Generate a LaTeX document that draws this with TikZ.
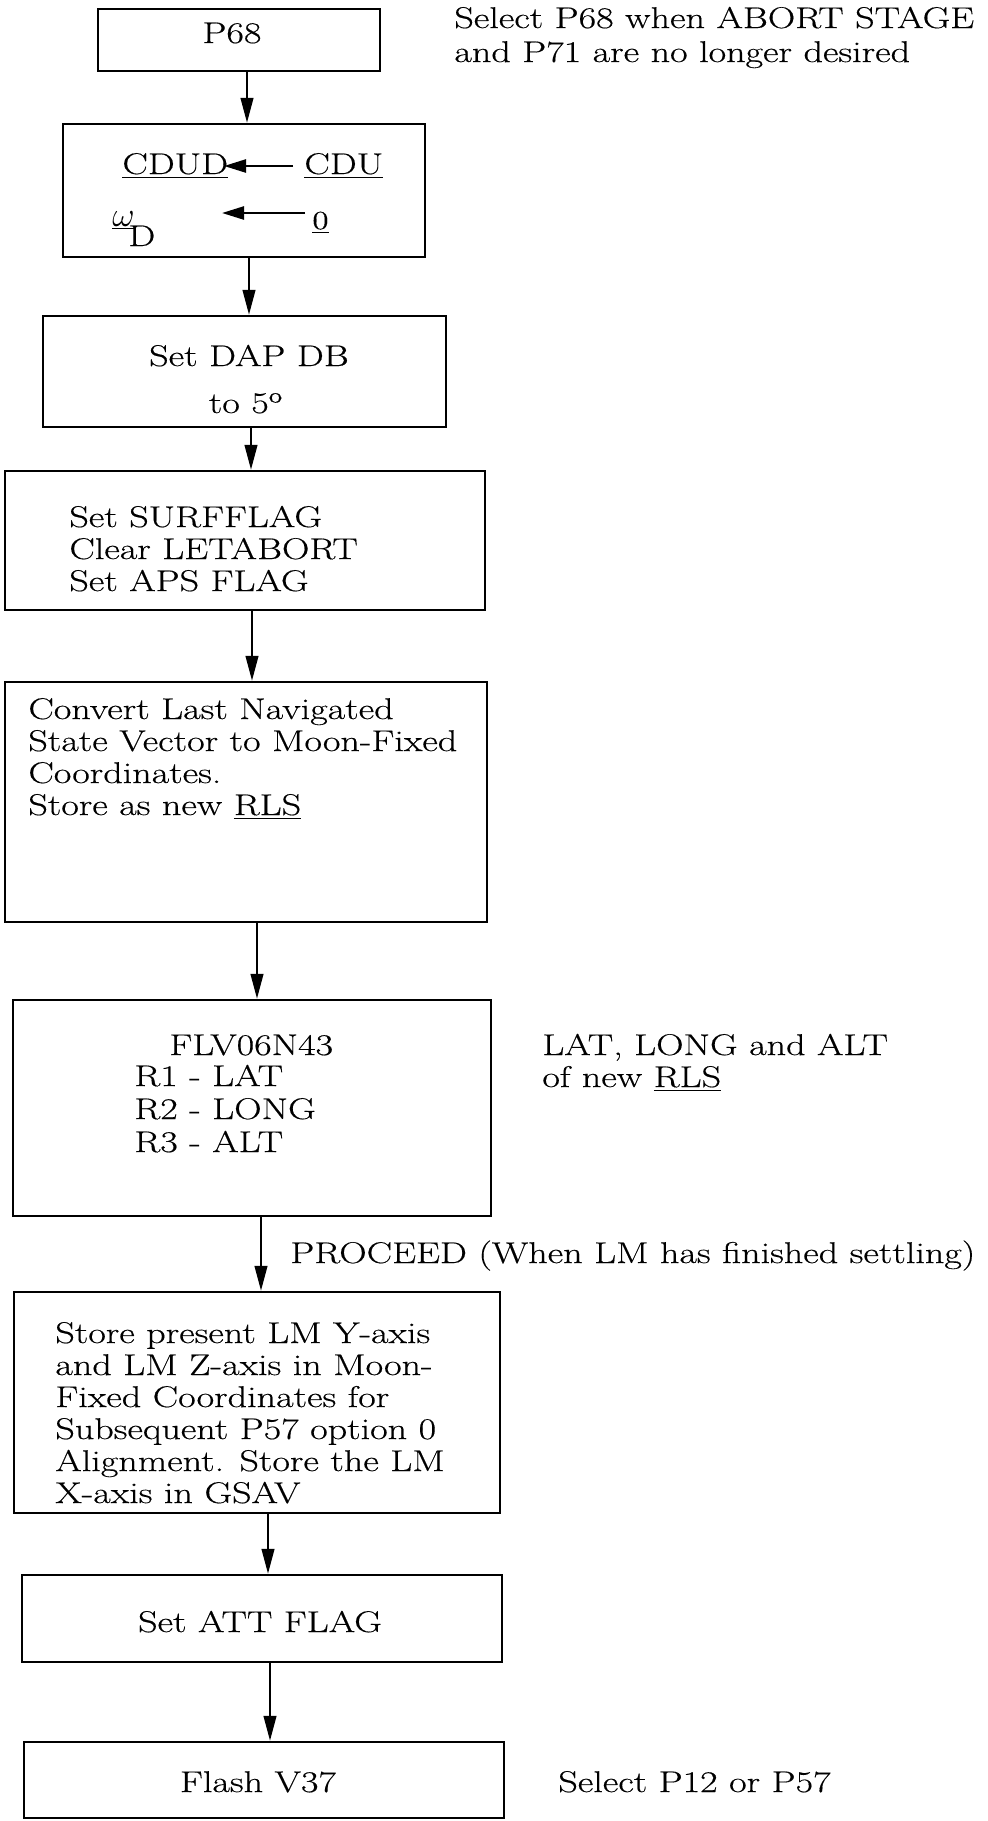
\documentclass[tikz,border=0pt]{standalone}
\usepackage{fontspec}
\setmainfont{Latin Modern Roman}[FakeStretch=1.27,FakeBold=0.4]
\usetikzlibrary{arrows.meta}
\newcommand{\fs}{\fontsize{15pt}{17pt}\selectfont}
\begin{document}
\begin{tikzpicture}[x=0.5pt,y=-0.5pt,
  box/.style={draw, line width=1.2pt, inner sep=0pt},
  tl/.style={anchor=base west, inner sep=0pt, font=\fs},
  tc/.style={anchor=base, inner sep=0pt, font=\fs},
  arr/.style={line width=1.2pt, -{Triangle[length=12.5pt,width=6.3pt]}},
  arrs/.style={line width=1.2pt, -{Triangle[length=11pt,width=6.5pt]}}]
\useasboundingbox (0,0) rectangle (988,1821);
% boxes
\node[box, minimum width=141pt, minimum height=31pt]   (b1) at (239,40) {};
\node[box, minimum width=181pt, minimum height=66.5pt] (b2) at (244,190.5) {};
\node[box, minimum width=201.5pt, minimum height=55.5pt] (b3) at (244.5,371.5) {};
\node[box, minimum width=240pt, minimum height=69.5pt] (b4) at (245,540.5) {};
\node[box, minimum width=241pt, minimum height=120pt]  (b5) at (246,802) {};
\node[box, minimum width=239pt, minimum height=108pt]  (b6) at (252,1108) {};
\node[box, minimum width=243pt, minimum height=110.5pt] (b7) at (257,1402.5) {};
\node[box, minimum width=240pt, minimum height=43.5pt] (b8) at (262,1618.5) {};
\node[box, minimum width=240pt, minimum height=38pt]   (b9) at (264,1780) {};
% connectors
\draw[arr] ([xshift=4pt]b1.south) -- ([xshift=4pt]b1.south |- b2.north);
\draw[arr] ([xshift=2.5pt]b2.south) -- ([xshift=2.5pt]b2.south |- b3.north);
\draw[arr] ([xshift=3.25pt]b3.south) -- ([xshift=3.25pt]b3.south |- b4.north);
\draw[arr] ([xshift=3.5pt]b4.south) -- ([xshift=3.5pt]b4.south |- b5.north);
\draw[arr] ([xshift=5.5pt]b5.south) -- ([xshift=5.5pt]b5.south |- b6.north);
\draw[arr] ([xshift=4.5pt]b6.south) -- ([xshift=4.5pt]b6.south |- b7.north);
\draw[arr] ([xshift=5.5pt]b7.south) -- ([xshift=5.5pt]b7.south |- b8.north);
\draw[arr] ([xshift=4pt]b8.south) -- ([xshift=4pt]b8.south |- b9.north);
% box 1
\node[tc] (t1) at (232,43) {P68};
\node[tl] (n1a) at (454,28) {Select P68 when ABORT STAGE};
\node[tl] (n1b) at (454,62) {and P71 are no longer desired};
% box 2
\node[tl] (cdud) at (122,174) {\underline{CDUD}};
\node[tl] (cdu) at (304,174) {\underline{CDU}};
\node[tl] (om) at (112,226) {\underline{\fontsize{18pt}{18pt}\selectfont$\omega$}};
\node[tl] (dd) at (128,246) {D};
\node[tl] (zero) at (312,229) {\fontsize{13pt}{13pt}\selectfont\underline{0}};
\coordinate (s1) at (293,166);
\coordinate (e1) at (224,166);
\coordinate (s2) at (305,213);
\coordinate (e2) at (222,213);
\draw[arrs] (s1) -- (e1);
\draw[arrs] (s2) -- (e2);
% box 3
\node[tc] (t3a) at (249,366) {Set DAP DB};
\node[tc] (t3b) at (246,413) {to 5\textsuperscript{o}};
% box 4
\node[tl] (t4a) at (69,527) {Set SURFFLAG};
\node[tl] (t4b) at (69,559) {Clear LETABORT};
\node[tl] (t4c) at (69,591) {Set APS FLAG};
% box 5
\node[tl] (t5a) at (28,719) {Convert Last Navigated};
\node[tl] (t5b) at (28,751) {State Vector to Moon-Fixed};
\node[tl] (t5c) at (28,783) {Coordinates.};
\node[tl] (t5d) at (28,815) {Store as new \underline{RLS}};
% box 6
\node[tl] (t6a) at (169,1055) {FLV06N43};
\node[tl] (t6b) at (134,1086) {R1 - LAT};
\node[tl] (t6c) at (134,1119) {R2 - LONG};
\node[tl] (t6d) at (134,1152) {R3 - ALT};
\node[tl] (n6a) at (542,1055) {LAT, LONG and ALT};
\node[tl] (n6b) at (542,1087) {of new \underline{RLS}};
\node[tl] (proc) at (290,1263) {PROCEED (When LM has finished settling)};
% box 7
\node[tl] (t7a) at (55,1343) {Store present LM Y-axis};
\node[tl] (t7b) at (55,1375) {and LM Z-axis in Moon-};
\node[tl] (t7c) at (55,1407) {Fixed Coordinates for};
\node[tl] (t7d) at (55,1439) {Subsequent P57 option 0};
\node[tl] (t7e) at (55,1471) {Alignment. Store the LM};
\node[tl] (t7f) at (55,1503) {X-axis in GSAV};
% box 8
\node[tc] (t8) at (260,1632) {Set ATT FLAG};
% box 9
\node[tc] (t9) at (258,1792) {Flash V37};
\node[tl] (n9) at (558,1792) {Select P12 or P57};
\end{tikzpicture}
\end{document}
